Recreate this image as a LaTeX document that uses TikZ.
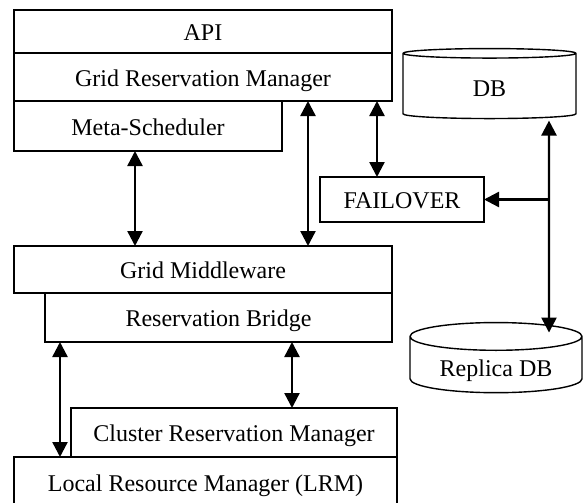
\documentclass[tikz,border=0pt]{standalone}
\usepackage{fontspec}
\setmainfont{Liberation Serif}
\usepackage{tikz}
\usetikzlibrary{positioning,shapes.geometric,arrows.meta}

\begin{document}
\begin{tikzpicture}[
  x=0.5pt, y=-0.5pt,
  layer/.style={draw, rectangle, line width=0.7pt, outer sep=0pt, inner sep=2pt,
    font=\fontsize{12}{14}\selectfont, text height=1.05em, text depth=0.15em},
  store/.style={draw, cylinder, shape border rotate=90, aspect=0.23,
    line width=0.7pt, outer sep=0pt, inner sep=2pt,
    font=\fontsize{12}{14}\selectfont, text height=1.05em, text depth=0.15em},
  link/.style={line width=1.2pt, {Triangle[length=7.5pt,width=7.5pt]}-{Triangle[length=7.5pt,width=7.5pt]}},
  feed/.style={line width=1.2pt, -{Triangle[length=7.5pt,width=7.5pt]}},
]
\useasboundingbox (0,0) rectangle (584,503);

% grid level stack
\node[layer, minimum width=189pt, minimum height=21.5pt] (api) at (203,31.5) {API};
\node[layer, minimum width=189pt, minimum height=24pt, below=0pt of api] (grm) {Grid Reservation Manager};
\node[layer, minimum width=134pt, minimum height=25pt, below right=0pt of grm.south west] (meta) {Meta-Scheduler};

% middleware stack
\node[layer, minimum width=189pt, minimum height=23.5pt] (gm) at (203,269.5) {Grid Middleware};
\node[layer, minimum width=173.5pt, minimum height=24.5pt, below left=0pt of gm.south east] (rb) {Reservation Bridge};

% cluster stack
\node[layer, minimum width=191.5pt, minimum height=25pt] (lrm) at (205.5,482) {Local Resource Manager (LRM)};
\node[layer, minimum width=163pt, minimum height=24.5pt, above left=0pt of lrm.north east] (crm) {Cluster Reservation Manager};

% failover and databases
\node[layer, minimum width=82pt, minimum height=22.5pt] (fo) at (402,199.5) {FAILOVER};
\node[store, minimum width=86.5pt, minimum height=35pt] (db) at (489.5,87) {DB};
\node[store, minimum width=86pt, minimum height=35pt] (rdb) at (496,367) {Replica DB};

\coordinate (dbout) at ([xshift=29.75pt,yshift=-1pt]db.south);
\coordinate (rdbin) at ([xshift=26.5pt,yshift=-5pt]rdb.north);

\draw[link] ([xshift=-6.5pt]meta.south) -- ([xshift=-34pt]gm.north);
\draw[link] ([xshift=52.5pt]grm.south) -- ([xshift=52.5pt]gm.north);
\draw[link] ([xshift=87pt]grm.south) -- ([xshift=-12.5pt]fo.north);
\draw[link] (dbout) -- (rdbin);
\draw[feed] (dbout |- fo.east) -- (fo.east);
\draw[link] ([xshift=-79.25pt]rb.south) -- ([xshift=-72.75pt]lrm.north);
\draw[link] ([xshift=36.75pt]rb.south) -- ([xshift=29pt]crm.north);
\end{tikzpicture}
\end{document}
